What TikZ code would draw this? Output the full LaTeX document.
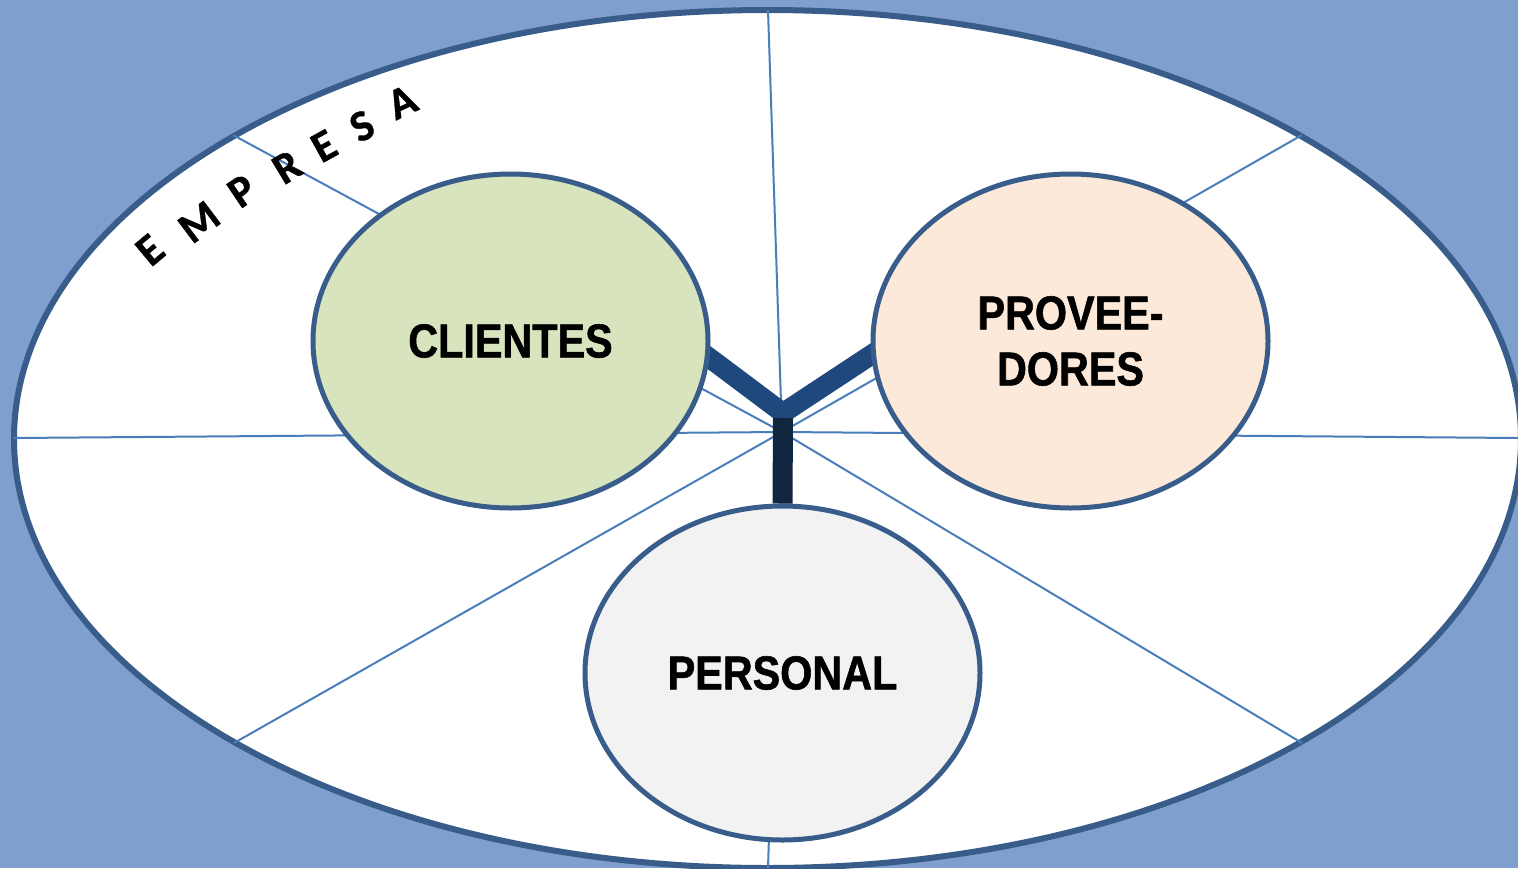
\documentclass[tikz,border=0pt]{standalone}
\usepackage{fontspec}
\setmainfont{Liberation Sans}
\newfontfamily\lblfont[FakeStretch=0.87, BoldFeatures={FakeBold=1.2}]{Liberation Sans}
\newfontfamily\empfont[BoldFont={Carlito Bold}, BoldFeatures={FakeBold=0.8}]{Carlito}
\usetikzlibrary{shapes.geometric,calc}
\pgfdeclarelayer{back}
\pgfdeclarelayer{mid}
\pgfsetlayers{back,mid,main}
\definecolor{bgblue}{HTML}{7F9FCF}
\definecolor{rimblue}{HTML}{385D8A}
\definecolor{rayblue}{HTML}{4A7EBB}
\definecolor{armblue}{HTML}{1F497D}
\definecolor{stemblue}{HTML}{10253F}
\definecolor{cligreen}{HTML}{D7E4BD}
\definecolor{provpeach}{HTML}{FDE9D9}
\definecolor{pergray}{HTML}{F2F2F2}
\tikzset{
  ray/.style={draw=rayblue, line width=2pt},
  bubble/.style={ellipse, draw=rimblue, line width=5pt, minimum width=395pt, minimum height=334pt, inner sep=0pt, align=center, font=\lblfont\bfseries\fontsize{47.5}{56}\selectfont},
  arm/.style={draw=armblue, line width=20pt, line join=miter},
  stemline/.style={draw=stemblue, line width=20pt},
  letter/.style={font=\empfont\bfseries\fontsize{44}{44}\selectfont, inner sep=0pt}
}
\begin{document}
\begin{tikzpicture}[x=1pt,y=-1pt]
\useasboundingbox (0,0) rectangle (1518,868);
\begin{pgfonlayer}{back}
\fill[bgblue] (0,0) rectangle (1518,868);
\filldraw[fill=white, draw=rimblue, line width=6pt] (767.5,439) ellipse [x radius=753.5, y radius=429];
\end{pgfonlayer}
% hub and rim points
\coordinate (hub) at (782,432);
\coordinate (rT) at (768,10);
\coordinate (rUL) at (233,135);
\coordinate (rL) at (14,438);
\coordinate (rLL) at (234,743);
\coordinate (rB) at (768,868);
\coordinate (rLR) at (1302,743);
\coordinate (rR) at (1518,438);
\coordinate (rUR) at (1302,135);
% bubbles
\node[bubble, fill=cligreen] (clientes) at (510.5,341) {CLIENTES};
\node[bubble, fill=provpeach] (proveedores) at (1070.5,341) {PROVEE-\\DORES};
\node[bubble, fill=pergray] (personal) at (782.5,673) {PERSONAL};
\begin{pgfonlayer}{back}
\foreach \p in {rT,rUL,rL,rLL,rB,rLR,rR,rUR} \draw[ray] (hub) -- (\p);
\end{pgfonlayer}
% Y connector
\coordinate (yc) at (783,413);
\coordinate (ys) at (783,418);
\begin{pgfonlayer}{mid}
\draw[arm] ($(clientes.-5)+(-6,-5)$) -- (yc) -- ($(proveedores.184)+(6,-4)$);
\end{pgfonlayer}
\draw[stemline] (ys) -- (personal.north);
% EMPRESA
\node[letter, rotate=40] (e1) at (150,250) {E};
\node[letter, rotate=37] (e2) at (199,222) {M};
\node[letter, rotate=34] (e3) at (242,191) {P};
\node[letter, rotate=31] (e4) at (287,167) {R};
\node[letter, rotate=29] (e5) at (324,146) {E};
\node[letter, rotate=27] (e6) at (362,126) {S};
\node[letter, rotate=25] (e7) at (402,102) {A};
\end{tikzpicture}
\end{document}
